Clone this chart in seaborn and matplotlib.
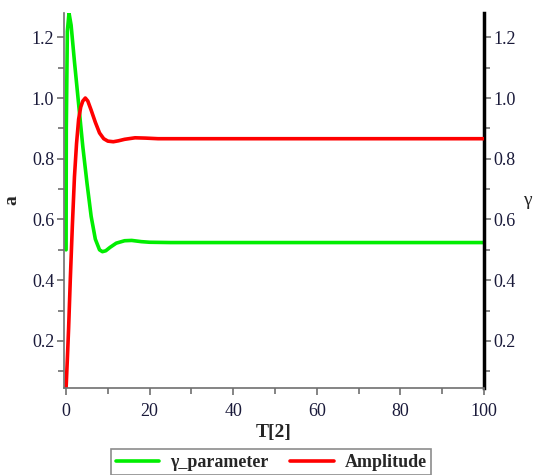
import matplotlib
matplotlib.use("Agg")
import matplotlib.pyplot as plt
import seaborn as sns
import pandas as pd
from matplotlib.ticker import MultipleLocator
from matplotlib.lines import Line2D

# gamma_parameter (right axis, γ)
t_gamma = [0, 0.05, 0.3, 0.7, 1.2, 2, 3, 4, 5, 6, 7, 8, 8.7, 9.5, 10.5, 12, 14, 15.7, 18, 20, 25, 30, 100]
gamma = [0.50, 0.90, 1.22, 1.28, 1.24, 1.12, 0.98, 0.84, 0.72, 0.61, 0.535, 0.50, 0.494, 0.497, 0.508,
         0.522, 0.530, 0.531, 0.527, 0.525, 0.524, 0.524, 0.524]

# Amplitude (left axis, a)
t_amp = [0, 0.3, 0.6, 1, 1.5, 2, 2.5, 3, 3.5, 4, 4.6, 5.2, 6, 7, 8, 9, 10, 11.3, 12.5, 14, 16.5, 19, 22, 30, 100]
amp = [0.045, 0.14, 0.24, 0.40, 0.58, 0.74, 0.85, 0.93, 0.97, 0.99, 1.0, 0.99, 0.96, 0.92, 0.885, 0.866,
       0.858, 0.856, 0.859, 0.864, 0.869, 0.868, 0.866, 0.866, 0.866]

labels = ["γ_parameter", "Amplitude"]
x_ticks = [0, 20, 40, 60, 80, 100]
y_ticks = [0.2, 0.4, 0.6, 0.8, 1.0, 1.2]
y_ticklabels = ["0.2", "0.4", "0.6", "0.8", "1.0", "1.2"]

sns.set_style("ticks")
plt.rcParams['font.family'] = ['Liberation Serif', 'DejaVu Serif']

fig = plt.figure(figsize=(5.35, 4.75), dpi=100)
ax = fig.add_axes([64/535, 1 - 388/475, (484-64)/535, (388-13)/475])
ax2 = ax.twinx()

df_g = pd.DataFrame({"t": t_gamma, "v": gamma})
df_a = pd.DataFrame({"t": t_amp, "v": amp})

sns.lineplot(data=df_a, x="t", y="v", ax=ax, color="#ff0000", lw=2.6, sort=False)
sns.lineplot(data=df_g, x="t", y="v", ax=ax2, color="#00ee00", lw=2.6, sort=False)
ax.set_zorder(ax2.get_zorder() + 1)
ax.patch.set_visible(False)

ylim = (0.045, 1.28)
for a in (ax, ax2):
    a.set_xlim(-0.5, 100)
    a.set_ylim(*ylim)
    a.set_yticks(y_ticks)
    a.set_yticklabels(y_ticklabels)
    a.yaxis.set_minor_locator(MultipleLocator(0.1))
    a.spines['top'].set_visible(False)

ax.set_xticks(x_ticks)
ax.set_xticklabels([str(v) for v in x_ticks])
ax.xaxis.set_minor_locator(MultipleLocator(10))

gray = "#707070"
ax.spines['left'].set_color(gray)
ax.spines['bottom'].set_color(gray)
ax.spines['left'].set_linewidth(1.2)
ax.spines['bottom'].set_linewidth(1.2)
ax.spines['right'].set_visible(False)
ax2.spines['left'].set_visible(False)
ax2.spines['bottom'].set_visible(False)
ax2.spines['right'].set_color("black")
ax2.spines['right'].set_linewidth(2.5)

for a in (ax, ax2):
    a.tick_params(which='major', length=5, width=1.2, color=gray, labelsize=13, labelcolor="#1a1a3a", pad=2)
    a.tick_params(which='minor', length=4, width=1.2, color=gray)
ax.tick_params(axis='x', which='major', pad=6)

ax.set_xlabel("T[2]", fontsize=14, fontweight='bold', labelpad=3)
ax.set_ylabel("a", fontsize=14, fontweight='bold', labelpad=8)
ax2.set_ylabel("γ", fontsize=14, rotation=0, labelpad=8, va='center')

handles = [Line2D([0], [0], color="#00ee00", lw=2.6), Line2D([0], [0], color="#ff0000", lw=2.6)]
leg = fig.legend(handles, labels, loc='lower center', bbox_to_anchor=(0.507, -0.02), ncol=2,
                 frameon=True, fancybox=False, prop={'weight': 'bold', 'size': 13},
                 handlelength=2.4, columnspacing=1.2, borderpad=0.25, handletextpad=0.6)
leg.get_frame().set_edgecolor(gray)
leg.get_frame().set_linewidth(1.2)

fig.savefig("out.png", dpi=100)
